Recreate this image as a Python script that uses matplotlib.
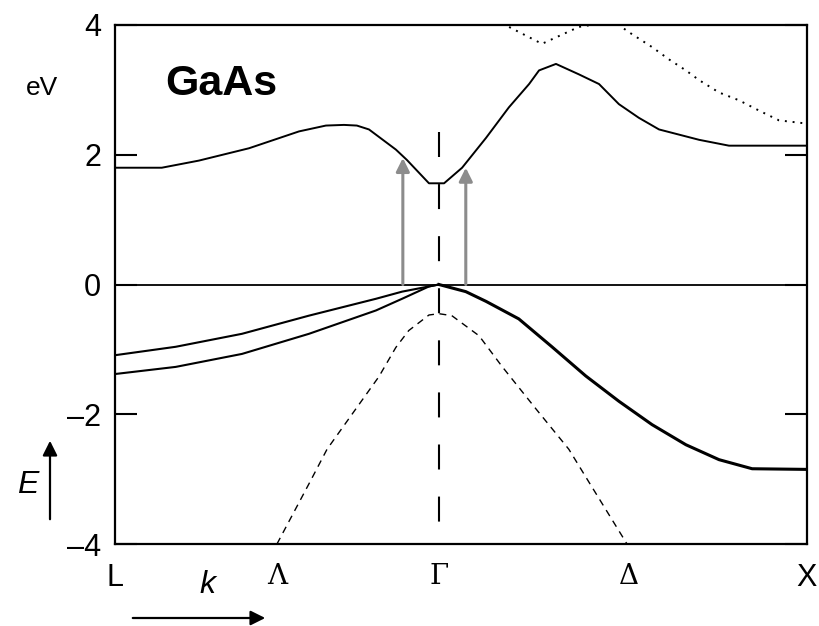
import matplotlib
matplotlib.use("Agg")
import matplotlib.pyplot as plt

plt.rcParams["font.family"] = ["Liberation Sans", "DejaVu Sans"]

# band structure (k: L=-0.88, Gamma=0, X=1.0; E in eV)
cb_k = [-0.88, -0.753, -0.652, -0.516, -0.380, -0.307, -0.258, -0.223, -0.190, -0.117,
        -0.087, -0.027, 0.0, 0.014, 0.063, 0.128, 0.190, 0.245, 0.272, 0.318, 0.380,
        0.435, 0.489, 0.543, 0.598, 0.707, 0.788, 1.0]
cb_e = [1.80, 1.80, 1.91, 2.10, 2.36, 2.45, 2.46, 2.45, 2.39, 2.08,
        1.92, 1.56, 1.56, 1.56, 1.80, 2.26, 2.73, 3.09, 3.30, 3.40, 3.24,
        3.09, 2.78, 2.57, 2.39, 2.23, 2.14, 2.14]

cb2_k = [0.136, 0.163, 0.280, 0.380, 0.435, 0.484, 0.516, 0.579, 0.625, 0.671,
         0.707, 0.761, 0.815, 0.870, 0.924, 1.0]
cb2_e = [4.15, 4.05, 3.71, 3.97, 4.02, 4.02, 3.89, 3.66, 3.47, 3.30,
         3.15, 2.96, 2.84, 2.68, 2.53, 2.48]

hh_k = [-0.88, -0.715, -0.535, -0.353, -0.171, -0.10, -0.027, 0.0]
hh_e = [-1.09, -0.96, -0.76, -0.48, -0.22, -0.11, -0.03, 0.0]
lh_k = [-0.88, -0.715, -0.535, -0.353, -0.171, -0.10, -0.027, 0.0]
lh_e = [-1.38, -1.27, -1.07, -0.76, -0.40, -0.22, -0.03, 0.0]

vbx_k = [0.0, 0.073, 0.128, 0.217, 0.307, 0.399, 0.489, 0.579, 0.671, 0.761, 0.851, 1.0]
vbx_e = [0.0, -0.11, -0.26, -0.53, -0.96, -1.41, -1.80, -2.16, -2.47, -2.70, -2.84, -2.85]

so_k = [-0.440, -0.351, -0.304, -0.226, -0.163, -0.117, -0.082, -0.027, 0.0,
        0.035, 0.109, 0.171, 0.264, 0.353, 0.408, 0.511]
so_e = [-4.0, -3.05, -2.54, -1.92, -1.42, -0.97, -0.71, -0.47, -0.45,
        -0.48, -0.79, -1.26, -1.92, -2.54, -3.05, -4.0]

# optical transitions (k, top energy)
arrow_k = [-0.098, 0.073]
arrow_top = [1.95, 1.80]

gamma_line_top = 2.35
k_ticks = [-0.88, -0.44, 0.0, 0.516, 1.0]
k_labels = ["L", "Λ", "Γ", "Δ", "X"]
e_ticks = [-4, -2, 0, 2, 4]

fig = plt.figure(figsize=(8.2, 6.26), dpi=100)
ax = fig.add_axes([115 / 820, 1 - 544 / 626, 692 / 820, 519 / 626])

ax.axhline(0, color="black", lw=1.3)
ax.plot(cb_k, cb_e, color="black", lw=1.4)
ax.plot(cb2_k, cb2_e, color="black", lw=1.4, linestyle=(0, (1, 3)))
ax.plot(hh_k, hh_e, color="black", lw=1.5)
ax.plot(lh_k, lh_e, color="black", lw=1.5)
ax.plot(vbx_k, vbx_e, color="black", lw=2.2)
ax.plot(so_k, so_e, color="black", lw=1.0, linestyle=(0, (5, 4)))
ax.plot([0, 0], [gamma_line_top, -4], color="black", lw=1.5, linestyle=(0, (12, 13)))

for k, top in zip(arrow_k, arrow_top):
    ax.annotate("", xy=(k, top), xytext=(k, 0),
                arrowprops=dict(arrowstyle="-|>", color="0.55", lw=2.2,
                                mutation_scale=20, shrinkA=0, shrinkB=0))

ax.set_xlim(-0.88, 1.0)
ax.set_ylim(-4, 4)
for s in ax.spines.values():
    s.set_linewidth(1.6)

ax.set_yticks(e_ticks)
ax.set_yticklabels([str(v).replace("-", "\u2013") for v in e_ticks])
ax.tick_params(axis="y", direction="in", length=16, width=1.5, labelsize=22,
               right=True, pad=10)
ax.set_xticks(k_ticks)
ax.set_xticklabels(k_labels)
ax.tick_params(axis="x", length=0, labelsize=22, pad=14)
for lab in ax.get_xticklabels():
    if lab.get_text() in ("Λ", "Γ", "Δ"):
        lab.set_fontfamily("DejaVu Serif")
        lab.set_fontsize(20)

fig.text(221 / 820, 1 - 84 / 626, "GaAs", fontsize=31, fontweight="bold",
         ha="center", va="center")
fig.text(42 / 820, 1 - 88 / 626, "eV", fontsize=19, ha="center", va="center")

# k arrow and label
fig.text(207 / 820, 1 - 585 / 626, "k", fontsize=23, style="italic",
         ha="center", va="center")
fig.add_artist(matplotlib.patches.FancyArrowPatch(
    (130 / 820, 1 - 618 / 626), (268 / 820, 1 - 618 / 626),
    transform=fig.transFigure, arrowstyle="-|>", mutation_scale=22,
    color="black", lw=1.6))

# E arrow and label
fig.text(28 / 820, 1 - 485 / 626, "E", fontsize=23, style="italic",
         ha="center", va="center")
fig.add_artist(matplotlib.patches.FancyArrowPatch(
    (50 / 820, 1 - 522 / 626), (50 / 820, 1 - 438 / 626),
    transform=fig.transFigure, arrowstyle="-|>", mutation_scale=22,
    color="black", lw=1.6))

fig.savefig("out.png", dpi=100)
